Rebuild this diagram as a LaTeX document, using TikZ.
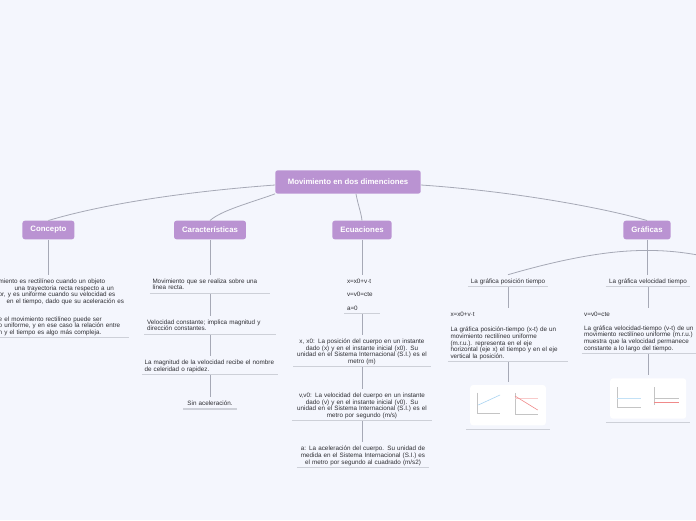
\documentclass[tikz,border=0pt]{standalone}
\usepackage{fontspec}
\setmainfont{Liberation Sans}
\usetikzlibrary{calc}
\definecolor{canvas}{HTML}{F4F6FD}
\definecolor{plum}{HTML}{BA93D2}
\definecolor{ink}{HTML}{2E2E33}
\definecolor{wire}{HTML}{A6A9B6}
\definecolor{rulegray}{HTML}{CDD0D8}
\definecolor{axisgray}{HTML}{C4C4C4}
\definecolor{plotblue}{HTML}{A9D4F2}
\definecolor{plotred}{HTML}{F08A8A}
\newcommand\leaffont{\fontsize{6.3}{6.7}\selectfont}
\newcommand\catfont{\fontsize{7.8}{9}\selectfont\bfseries}
\tikzset{
  mainbox/.style={fill=plum,text=white,font=\catfont,rounded corners=2.5pt,
                  inner xsep=12.5pt,minimum height=23.3pt},
  catbox/.style={mainbox,inner xsep=8pt,minimum height=18.6pt},
  leaf/.style={font=\leaffont,text=ink,align=left,anchor=north,
               inner xsep=2.5pt,inner ysep=1.3pt,
               execute at begin node=\rule{0pt}{7pt},
               execute at end node=\rule[-1.7pt]{0pt}{1.7pt}},
  thumb/.style={anchor=north,inner sep=0pt},
  link/.style={draw=wire,line width=0.8pt},
  uline/.style={draw=rulegray,line width=1.1pt},
  axis/.style={draw=axisgray,line width=0.4pt},
}
\begin{document}
\begin{tikzpicture}[x=1pt,y=-1pt]
  \useasboundingbox (0,0) rectangle (696,520);
  \clip (0,0) rectangle (696,520);
  \fill[canvas] (0,0) rectangle (696,520);

  % Central topic and the four branches
  \node[mainbox] (main) at (348,182) {Movimiento en dos dimenciones};
  \node[catbox] (conc) at (48.4,230) {Concepto};
  \node[catbox] (cara) at (210,230) {Características};
  \node[catbox] (ecua) at (362,230) {Ecuaciones};
  \node[catbox] (graf) at (647,230) {Gráficas};

  \draw[link] ($(main.west)+(0,3)$) .. controls (180,192) and (100,205) .. (conc.north);
  \draw[link] (main.south west) .. controls (250,203) and (222,210) .. (cara.north);
  \draw[link] ($(main.south)+(8,0)$) .. controls (358,205) and (361,212) .. (ecua.north);
  \draw[link] ($(main.east)+(0,3)$) .. controls (510,191) and (600,207) .. (graf.north);

  % Concepto (cut at the left edge)
  \node[leaf,anchor=north west,text width=127.3pt] (cdef) at (-4,275)
    {miento es rectilíneo cuando un objeto\\
     \hspace*{16pt}una trayectoria recta respecto a un\\
     or, y es uniforme cuando su velocidad es\\
     \hspace*{8pt}en el tiempo, dado que su aceleración es\\[10.9pt]
     e el movimiento rectilíneo puede ser\\
     o uniforme, y en ese caso la relación entre\\
     n y el tiempo es algo más compleja.};
  \draw[link] (conc.south) -- (conc.south |- cdef.north);

  % Características
  \node[leaf,text width=115pt] (kline) at (210,274.7)
    {Movimiento que se realiza sobre una\\ línea recta.};
  \node[leaf,text width=126pt] (kvel) at (210,315.7)
    {Velocidad constante; implica magnitud y\\ dirección constantes.};
  \node[leaf,text width=131pt] (kmag) at (210,356.3)
    {La magnitud de la velocidad recibe el nombre\\ de celeridad o rapidez.};
  \node[leaf,align=center,text width=47.7pt] (kacc) at (210,397.3)
    {Sin aceleración.};
  \draw[link] (cara.south) -- (kline.north);
  \draw[link] (kline.south) -- (kvel.north);
  \draw[link] (kvel.south) -- (kmag.north);
  \draw[link] (kmag.south) -- (kacc.north);

  % Ecuaciones
  \node[leaf,text width=30pt] (eqs) at (362,274.7)
    {x=x0+v·t\\[6.8pt]v=v0=cte\\[6.8pt]a=0};
  \node[leaf,align=center,text width=132.4pt] (epos) at (362,335)
    {x, x0: La posición del cuerpo en un instante\\
     dado (x) y en el instante inicial (x0). Su\\
     unidad en el Sistema Internacional (S.I.) es el\\
     metro (m)};
  \node[leaf,align=center,text width=135pt] (evel) at (362,389)
    {v,v0: La velocidad del cuerpo en un instante\\
     dado (v) y en el instante inicial (v0). Su\\
     unidad en el Sistema Internacional (S.I.) es el\\
     metro por segundo (m/s)};
  \node[leaf,align=center,text width=127pt] (eacc) at (363,442.3)
    {a: La aceleración del cuerpo. Su unidad de\\
     medida en el Sistema Internacional (S.I.) es\\
     el metro por segundo al cuadrado (m/s2)};
  \draw[link] (ecua.south) -- (eqs.north);
  \draw[link] (eqs.south) -- (epos.north);
  \draw[link] (epos.south) -- (evel.north);
  \draw[link] (evel.south) -- (evel.south |- eacc.north);

  % Gráficas: fork to its children
  \node[leaf,align=center,text width=75pt] (gpt) at (508,274.7)
    {La gráfica posición tiempo};
  \node[leaf,align=center,text width=79.3pt] (gvt) at (648,274.7)
    {La gráfica velocidad tiempo};
  \coordinate (gfork) at ($(graf.south)+(0,11)$);
  \coordinate (gmore) at (770,277);
  \draw[link] (graf.south) -- (graf.south |- gvt.north);
  \draw[link] (gfork) .. controls (600,250) and (545,264) .. (gpt.north);
  \draw[link] (gfork) .. controls (695,250) and (740,264) .. (gmore);

  \node[leaf,text width=115pt] (gptxt) at (508,308)
    {x=x0+v·t\\[8.6pt]
     La gráfica posición-tiempo (x-t) de un\\
     movimiento rectilíneo uniforme\\
     (m.r.u.). representa en el eje\\
     horizontal (eje x) el tiempo y en el eje\\
     vertical la posición.};
  \node[leaf,text width=127.6pt] (gvtxt) at (648,308)
    {v=v0=cte\\[7pt]
     La gráfica velocidad-tiempo (v-t) de un\\
     movimiento rectilíneo uniforme (m.r.u.)\\
     muestra que la velocidad permanece\\
     constante a lo largo del tiempo.};
  \draw[link] (gpt.south) -- (gptxt.north);
  \draw[link] (gvt.south) -- (gvtxt.north);

  % Thumbnail: position-time plots
  \node[thumb,minimum width=83.3pt,minimum height=47.6pt] (gpic) at (508,381.7) {};
  \fill[white,rounded corners=3pt] ($(gpic.north west)+(4,3.3)$)
    rectangle ($(gpic.south east)+(-4,-4.3)$);
  \begin{scope}[shift={(470.7,385)}]
    \draw[axis] (6,7.7) -- (6,28.3) -- (29.3,28.3);
    \draw[plotblue,line width=0.6pt] (7.6,20) -- (29.3,10);
    \draw[axis] (44.3,8.3) -- (44.3,30) (44.3,29) -- (67,29);
    \draw[plotred!45,line width=0.5pt] (44.3,13.3) -- (67,13.3);
    \draw[plotred,line width=0.6pt] (44.3,11) -- (67,25);
  \end{scope}
  \draw[link] (gptxt.south) -- (gpic.north);

  % Thumbnail: velocity-time plots
  \node[thumb,minimum width=84pt,minimum height=46.7pt] (gvpic) at (648,375) {};
  \fill[white,rounded corners=3pt] ($(gvpic.north west)+(4.3,3.3)$)
    rectangle ($(gvpic.south east)+(-4,-3.4)$);
  \begin{scope}[shift={(610.7,378.3)}]
    \draw[axis] (6,8.7) -- (6,28.7) -- (30.3,28.7);
    \draw[plotblue!70,line width=0.6pt] (6,20.3) -- (30.3,20.3);
    \draw[axis] (43.7,8.7) -- (43.7,27) (43.7,20.3) -- (68.3,20.3);
    \draw[plotred,line width=0.6pt] (43.7,23.7) -- (68.3,23.7);
  \end{scope}
  \draw[link] (gvtxt.south) -- (gvpic.north);

  % Underlines below every leaf
  \foreach \n in {cdef,kline,kvel,kmag,kacc,eqs,epos,evel,eacc,gpt,gvt,gptxt,gvtxt,gpic,gvpic}
    \draw[uline] (\n.south west) -- (\n.south east);
\end{tikzpicture}
\end{document}
